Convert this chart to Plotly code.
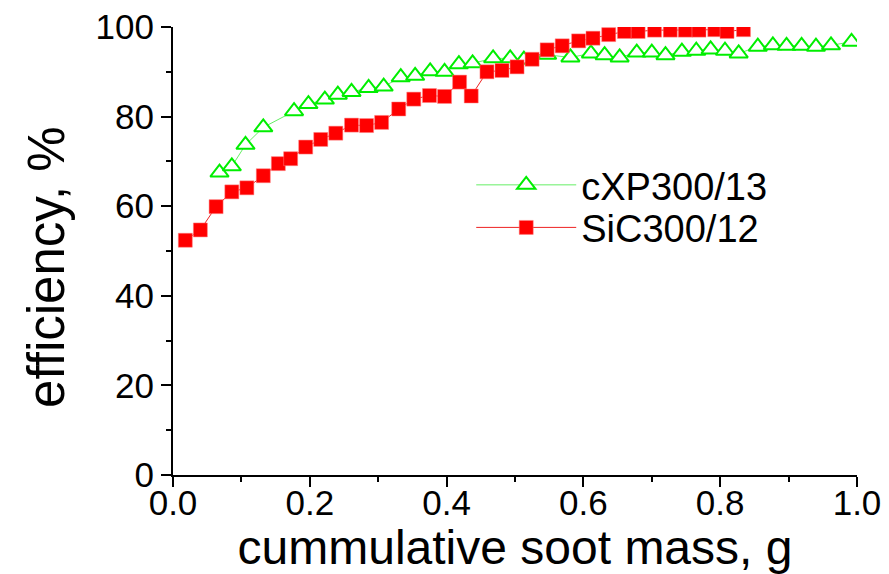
import plotly.graph_objects as go

# cumulative soot mass (g) and filtration efficiency (%) for the two filters
cxp_mass = [0.068, 0.086, 0.106, 0.132, 0.177, 0.198, 0.222, 0.241, 0.261, 0.286,
            0.308, 0.333, 0.354, 0.376, 0.397, 0.418, 0.438, 0.468, 0.493, 0.513,
            0.547, 0.581, 0.611, 0.631, 0.653, 0.678, 0.700, 0.720, 0.744, 0.765,
            0.786, 0.807, 0.827, 0.855, 0.877, 0.897, 0.919, 0.940, 0.962, 0.992]
cxp_eff = [67.5, 68.9, 73.7, 77.6, 81.2, 82.8, 83.8, 84.9, 85.5, 86.4,
           86.7, 88.8, 89.1, 90.1, 90.0, 91.7, 91.9, 93.0, 93.0, 92.7,
           93.8, 93.2, 94.1, 93.7, 93.2, 94.3, 94.3, 93.7, 94.5, 94.7,
           95.0, 94.7, 94.1, 95.6, 95.9, 95.8, 95.8, 95.6, 95.9, 96.7]

sic_mass = [0.018, 0.040, 0.063, 0.086, 0.108, 0.132, 0.154, 0.172, 0.194, 0.216,
            0.238, 0.261, 0.283, 0.305, 0.330, 0.352, 0.375, 0.397, 0.419, 0.436,
            0.459, 0.481, 0.503, 0.525, 0.547, 0.569, 0.593, 0.614, 0.637, 0.660,
            0.680, 0.704, 0.727, 0.749, 0.769, 0.792, 0.810, 0.834]
sic_eff = [52.4, 54.7, 59.9, 63.2, 64.1, 66.8, 69.5, 70.6, 73.2, 74.9,
           76.3, 78.1, 78.0, 78.7, 81.7, 83.9, 84.7, 84.5, 87.7, 84.6,
           90.0, 90.3, 91.1, 92.8, 94.9, 95.8, 96.9, 97.5, 98.3, 99.0,
           99.0, 99.3, 99.3, 99.3, 99.3, 99.4, 99.0, 99.4]

series_names = ["cXP300/13", "SiC300/12"]
x_ticks = [0.0, 0.2, 0.4, 0.6, 0.8, 1.0]
y_ticks = [0, 20, 40, 60, 80, 100]
x_title = "cummulative soot mass, g"
y_title = "efficiency, %"

FONT = "Liberation Sans, Arial, sans-serif"
GREEN = "#00ee00"
RED = "#ff0000"

fig = go.Figure()

fig.add_trace(go.Scatter(
    x=cxp_mass, y=cxp_eff, name=series_names[0], mode="lines+markers",
    line=dict(color="#66ee66", width=1),
    marker=dict(symbol="triangle-up", size=16, color="white",
                line=dict(color=GREEN, width=2)),
    legend="legend",
))

fig.add_trace(go.Scatter(
    x=sic_mass, y=sic_eff, name=series_names[1], mode="lines+markers",
    line=dict(color="#ee2222", width=1),
    marker=dict(symbol="square", size=14, color=RED,
                line=dict(color="#ff8080", width=0.5)),
    legend="legend2",
))

axis_common = dict(
    showgrid=False, zeroline=False, showline=True, linecolor="black",
    linewidth=2, ticks="outside", ticklen=10, tickwidth=2, tickcolor="black",
    tickfont=dict(family=FONT, size=35, color="black"),
    mirror=False, automargin=False,
)

fig.update_xaxes(
    range=[0, 1], tickvals=x_ticks, ticktext=[f"{v:.1f}" for v in x_ticks],
    minor=dict(dtick=0.1, ticks="outside", ticklen=5, tickwidth=2, tickcolor="black"),
    ticklabelstandoff=-14,
    title=dict(text=x_title, font=dict(family=FONT, size=48, color="black"),
               standoff=2),
    **axis_common,
)
fig.update_yaxes(
    range=[0, 100], tickvals=y_ticks, ticktext=[str(v) for v in y_ticks],
    minor=dict(dtick=10, ticks="outside", ticklen=5, tickwidth=2, tickcolor="black"),
    **axis_common,
)

# y-axis title placed as rotated text to the left of the tick labels
fig.add_annotation(
    text=y_title, textangle=-90, showarrow=False,
    xref="paper", yref="paper", x=-0.186, y=0.464,
    xanchor="center", yanchor="middle",
    font=dict(family=FONT, size=51, color="black"),
)

legend_common = dict(
    font=dict(family=FONT, size=38, color="black"),
    bgcolor="rgba(0,0,0,0)", borderwidth=0, itemwidth=100,
    xanchor="left", yanchor="middle",
)

fig.update_layout(
    width=889, height=574, autosize=False,
    margin=dict(l=173, r=32, t=27, b=99),
    paper_bgcolor="white", plot_bgcolor="white",
    showlegend=True,
    legend=dict(x=0.436, y=0.647, **legend_common),
    legend2=dict(x=0.436, y=0.552, **legend_common),
)

fig.write_html("out.html")
